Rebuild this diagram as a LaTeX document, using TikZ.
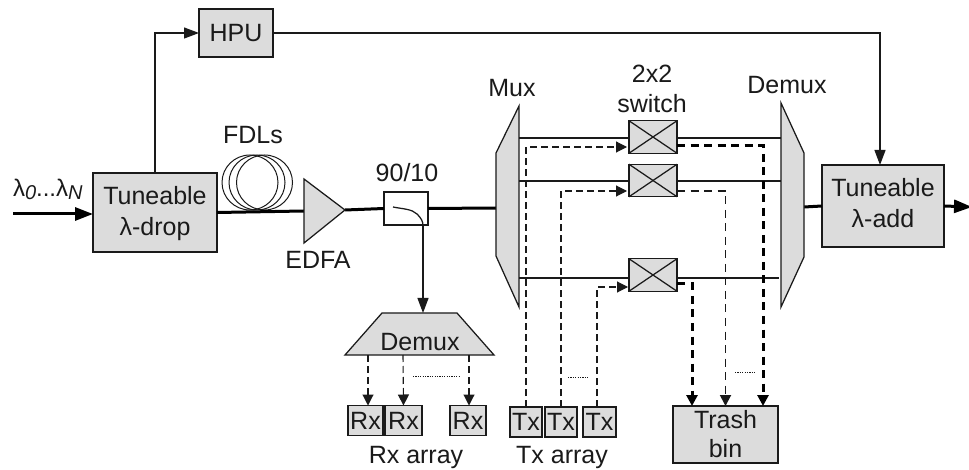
\documentclass[tikz,border=0pt]{standalone}
\usepackage{fontspec}
\setmainfont{Liberation Sans}
\usetikzlibrary{arrows.meta}
\definecolor{fillg}{HTML}{DCDCDC}
\definecolor{ink}{HTML}{1A1A1A}
\newcommand\shiftup[2]{\raisebox{#1}[\height][\depth]{#2}}
\tikzset{
  every node/.style={inner sep=0pt,outer sep=0pt,text=ink},
  lbl/.style={font=\fontsize{25}{30}\selectfont,align=center},
  gbox/.style={draw=ink,fill=fillg,line width=1.25pt,lbl},
  wbox/.style={draw=ink,fill=white,line width=1.25pt},
  swbox/.style={draw=ink,fill=fillg,line width=1.25pt,minimum width=48pt,minimum height=32.5pt},
  rxbox/.style={gbox,minimum height=30pt},
  thinl/.style={draw=ink,line width=1.2pt},
  thickl/.style={draw=black,line width=3pt},
  tipA/.style={-{Triangle[length=15pt,width=11pt]}},
  tipB/.style={-{Triangle[length=18pt,width=13pt]}},
  tipC/.style={-{Triangle[length=11pt,width=11pt]}},
  dashthin/.style={draw=ink,line width=1.1pt,dash pattern=on 7pt off 4pt},
  dashmed/.style={draw=ink,line width=1.9pt,dash pattern=on 8pt off 5.5pt},
  dashthick/.style={draw=black,line width=3pt,dash pattern=on 8pt off 5.5pt},
  dotsl/.style={draw=ink,line width=0.9pt,dash pattern=on 1.2pt off 1.2pt},
  poly/.style={draw=ink,fill=fillg,line width=1.25pt,line join=miter},
}
\begin{document}
\begin{tikzpicture}[x=1pt,y=-1pt]
\clip (0,0) rectangle (969,470);
\fill[white] (0,0) rectangle (969,470);

% free ends and ports
\coordinate (inL) at (13,214);
\coordinate (outR) at (972,207);
\coordinate (muxP) at (496,208);
\coordinate (demP) at (804,207);
\coordinate (edfaIn) at (304,211);
\coordinate (edfaTip) at (345,210);
\coordinate (m1) at (519,138);
\coordinate (m2) at (519,181);
\coordinate (m3) at (519,278);
\coordinate (d1) at (781,138);
\coordinate (d2) at (781,181);
\coordinate (d3) at (779,278);
\coordinate (tapOut) at (423,226);
\coordinate (tapIn) at (393,207);

% boxes
\node[gbox,minimum width=124pt,minimum height=79pt] (drop) at (155,212.5) {\shiftup{-1pt}{Tuneable}\\[1pt]\shiftup{-1pt}{λ-drop}};
\node[gbox,minimum width=74pt,minimum height=48pt] (hpu) at (236,33) {HPU};
\node[gbox,minimum width=122pt,minimum height=82pt] (add) at (883,206) {\shiftup{2.5pt}{Tuneable}\\[1pt]\shiftup{2.5pt}{λ-add}};
\node[wbox,minimum width=44pt,minimum height=33pt] (tap) at (406,208.5) {};
\coordinate (addIn) at (880,165);

% FDL coils
\draw[ink,line width=1pt] (250,182.5) circle [x radius=28,y radius=27.5];
\draw[ink,line width=1pt] (257,182.5) circle [x radius=28,y radius=27.5];
\draw[ink,line width=1pt] (264.5,182.5) circle [x radius=28,y radius=27.5];
\node[lbl] (fdl) at (253,135) {FDLs};

% main thick path
\draw[thickl,tipB] (inL) -- (drop.west |- inL);
\draw[thickl] (drop.east) -- (edfaIn);
\draw[thickl] (edfaTip) -- (tap.west);
\draw[thickl] (tap.east) -- (muxP);
\draw[thickl] (demP) -- (add.west);
\draw[thickl,tipB] (add.east) -- (outR);

% control path
\draw[thinl,tipA] (drop.north) |- (hpu.west);
\draw[thinl,tipA] (hpu.east) -| (addIn);

% EDFA
\draw[poly] (304,179) -- (345,210) -- (304,243) -- cycle;
\node[lbl] (edfa) at (318,260) {EDFA};

% splitter
\node[lbl] (ratio) at (407,173) {90/10};

% Mux and Demux
\draw[poly] (519,106) -- (519,307) -- (496,256) -- (496,153) -- cycle;
\draw[poly] (781,103) -- (804,153) -- (804,257) -- (781,307) -- cycle;
\node[lbl] (muxl) at (512,88) {Mux};
\node[lbl] (demuxl) at (787,85) {Demux};

% switches
\node[swbox] (s1) at (653,137) {};
\node[swbox] (s2) at (653,180.5) {};
\node[swbox] (s3) at (653,275) {};
\node[lbl] (swl) at (652,89) {2x2\\switch};

% solid lines through switches
\draw[thinl] (m1) -- (s1.west |- m1);
\draw[thinl] (s1.east |- d1) -- (d1);
\draw[thinl] (m2) -- (s2.west |- m2);
\draw[thinl] (s2.east |- d2) -- (d2);
\draw[thinl] (m3) -- (s3.west |- m3);
\draw[thinl] (s3.east |- d3) -- (d3);
\foreach \s in {s1,s2,s3}{
  \draw[ink,line width=1.25pt] (\s.north west) -- (\s.south east);
  \draw[ink,line width=1.25pt] (\s.south west) -- (\s.north east);
}

% Rx side
\draw[poly] (382,313) -- (457,313) -- (494,355) -- (345,355) -- cycle;
\node[lbl] (dmx) at (420,342) {Demux};
\coordinate (r1o) at (368,355);
\coordinate (r2o) at (403,355);
\coordinate (r3o) at (469,355);
\node[rxbox,minimum width=35pt] (r1) at (365.5,420.5) {Rx};
\node[rxbox,minimum width=37pt] (r2) at (403.5,420.5) {Rx};
\node[rxbox,minimum width=36pt] (r3) at (468,420.5) {Rx};
\draw[dashthin,tipC] (r1o) -- (r1o |- r1.north);
\draw[dashthin,tipC] (r2o) -- (r2.north);
\draw[dashthin,tipC] (r3o) -- (r3o |- r3.north);
\draw[dotsl] (413,376) -- (460,376);
\node[lbl] (rxl) at (416,457) {Rx array};

% tap curve and drop to Demux
\draw[ink,line width=1.25pt] (tapIn) .. controls (403,209) and (412,209) .. (417,214) .. controls (421,218) and (423,221) .. (tapOut);
\draw[thinl,tipA] (tapOut) -- (tapOut |- 0,313);

% Tx side
\node[rxbox,minimum width=32pt] (t1) at (526,422) {Tx};
\node[rxbox,minimum width=32pt] (t2) at (561,422) {Tx};
\node[rxbox,minimum width=33pt] (t3) at (599.5,422) {Tx};
\coordinate (s1i) at (627,147);
\coordinate (s2i) at (627,191);
\coordinate (s3i) at (628,287);
\draw[dashthin,tipC] (t1.north) |- (s1i);
\draw[dashthin,tipC] (t2.north) |- (s2i);
\draw[dashthin,tipC] (t3.north -| 597,0) |- (s3i);
\draw[dotsl] (568,377) -- (588,377);
\node[lbl] (txl) at (562,457) {Tx array};

% Trash
\node[gbox,minimum width=105pt,minimum height=57pt] (trash) at (725.5,434.5) {Trash\\[-1pt]bin};
\coordinate (s1o) at (677,145.5);
\coordinate (s2o) at (677,191);
\coordinate (s3o) at (677,284);
\draw[dashthick,tipC] (s1o) -| (763,406);
\draw[dashmed,tipC] (s2o) -| (trash.north);
\draw[dashthick,tipC] (s3o) -| (692,406);
\draw[dotsl] (735,372) -- (755,372);

% input label
\node[anchor=base west,font=\fontsize{24}{24}\selectfont] (inlab) at (13,197) {λ\raisebox{-3pt}{\itshape\fontsize{20}{20}\selectfont 0}...λ\raisebox{-3pt}{\itshape\fontsize{20}{20}\selectfont N}};
\end{tikzpicture}
\end{document}
